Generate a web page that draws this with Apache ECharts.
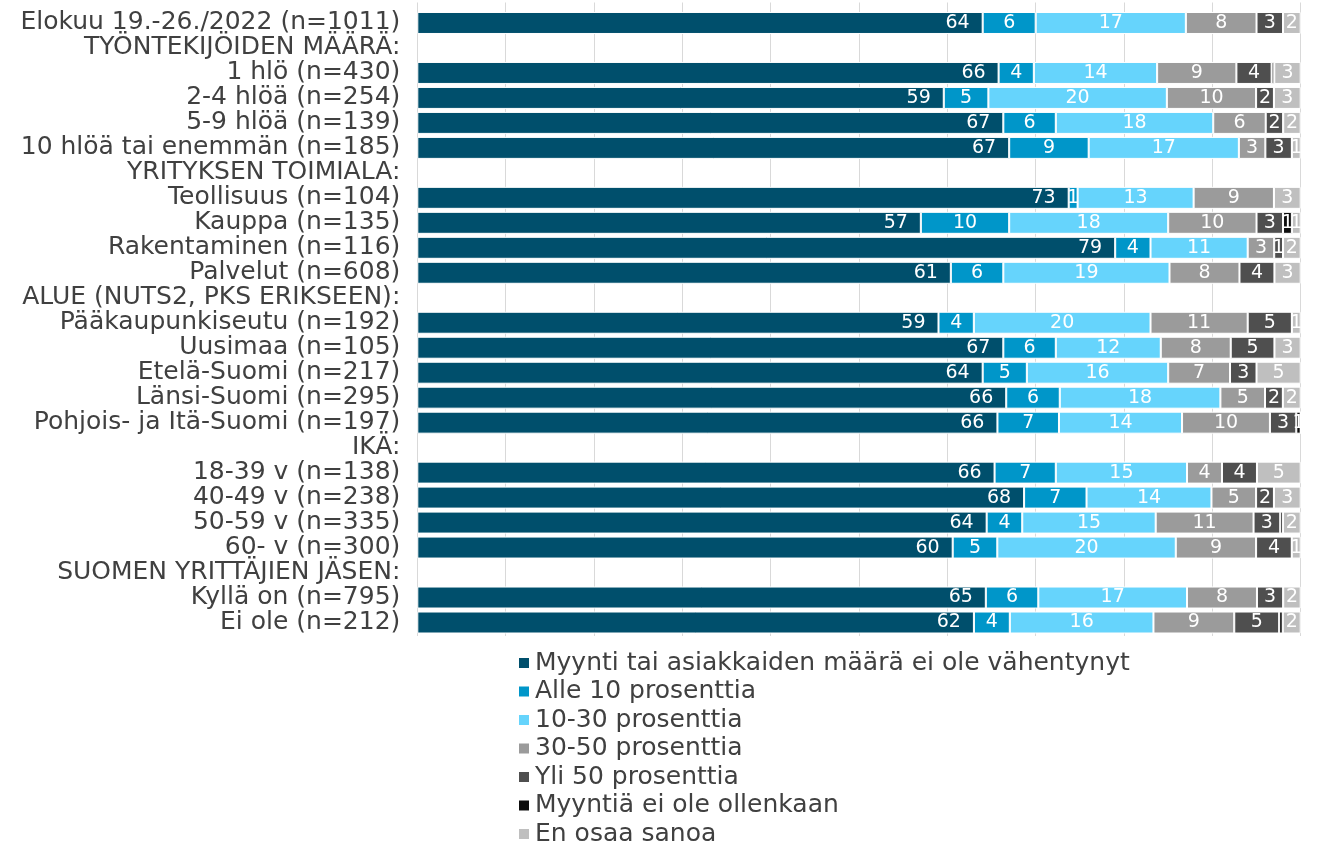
<!DOCTYPE html>
<html>
<head>
<meta charset="utf-8">
<script src="https://cdn.jsdelivr.net/npm/echarts@6/dist/echarts.min.js"></script>
<style>
html,body{margin:0;padding:0;background:#fff;}
#chart{width:1342px;height:845px;}
</style>
</head>
<body>
<div id="chart"></div>
<script>
const categories = [
  'Elokuu 19.-26./2022 (n=1011)',
  'TYÖNTEKIJÖIDEN MÄÄRÄ:',
  '1 hlö (n=430)',
  '2-4 hlöä (n=254)',
  '5-9 hlöä (n=139)',
  '10 hlöä tai enemmän (n=185)',
  'YRITYKSEN TOIMIALA:',
  'Teollisuus (n=104)',
  'Kauppa (n=135)',
  'Rakentaminen (n=116)',
  'Palvelut (n=608)',
  'ALUE (NUTS2, PKS ERIKSEEN):',
  'Pääkaupunkiseutu (n=192)',
  'Uusimaa (n=105)',
  'Etelä-Suomi (n=217)',
  'Länsi-Suomi (n=295)',
  'Pohjois- ja Itä-Suomi (n=197)',
  'IKÄ:',
  '18-39 v (n=138)',
  '40-49 v (n=238)',
  '50-59 v (n=335)',
  '60- v (n=300)',
  'SUOMEN YRITTÄJIEN JÄSEN:',
  'Kyllä on (n=795)',
  'Ei ole (n=212)'
];

const seriesNames = [
  'Myynti tai asiakkaiden määrä ei ole vähentynyt',
  'Alle 10 prosenttia',
  '10-30 prosenttia',
  '30-50 prosenttia',
  'Yli 50 prosenttia',
  'Myyntiä ei ole ollenkaan',
  'En osaa sanoa'
];

const eiVahentynyt = [64,null,66,59,67,67,null,73,57,79,61,null,59,67,64,66,66,null,66,68,64,60,null,65,62];
const alle10       = [6,null,4,5,6,9,null,1,10,4,6,null,4,6,5,6,7,null,7,7,4,5,null,6,4];
const p10_30       = [17,null,14,20,18,17,null,13,18,11,19,null,20,12,16,18,14,null,15,14,15,20,null,17,16];
const p30_50       = [8,null,9,10,6,3,null,9,10,3,8,null,11,8,7,5,10,null,4,5,11,9,null,8,9];
const yli50        = [3,null,4,2,2,3,null,0,3,1,4,null,5,5,3,2,3,null,4,2,3,4,null,3,5];
const eiMyyntia    = [0,null,0.3,0,0,0,null,0,1,0,0,null,0,0,0,0,0.5,null,0,0,0.3,0,null,0,0.4];
const eosSanoa     = [2,null,3,3,2,1,null,3,1,2,3,null,1,3,5,2,0,null,5,3,2,1,null,2,2];

const colors = ['#004f6c','#0096c9','#66d4fc','#9b9b9b','#4f4f4f','#0d0d0d','#bfbfbf'];
const raw = [eiVahentynyt, alle10, p10_30, p30_50, yli50, eiMyyntia, eosSanoa];

const FONT = 'DejaVu Sans';

const rowSums = categories.map((c, i) => {
  let s = 0; let any = false;
  raw.forEach(a => { if (a[i] != null) { s += a[i]; any = true; } });
  return any ? s : null;
});

const series = raw.map((arr, si) => ({
  name: seriesNames[si],
  type: 'bar',
  stack: 'total',
  barCategoryGap: '12%',
  xAxisIndex: 0, yAxisIndex: 0,
  itemStyle: { color: colors[si], borderColor: '#ffffff', borderWidth: 1 },
  label: {
    show: true,
    position: si === 0 ? 'insideRight' : 'inside',
    distance: si === 0 ? 13 : 5,
    color: '#ffffff',
    fontFamily: FONT,
    fontSize: 19,
    formatter: p => {
      const v = arr[p.dataIndex];
      if (v == null || Math.round(v) === 0) return '';
      return String(Math.round(v));
    }
  },
  emphasis: { disabled: true },
  data: arr.map((v, i) => v == null ? null : v / rowSums[i] * 100)
}));

const chart = echarts.init(document.getElementById('chart'), null, { renderer: 'canvas' });
chart.setOption({
  animation: false,
  backgroundColor: '#ffffff',
  color: colors,
  grid: [
    { left: 417.3, right: 41.3, top: 10.5, bottom: 210, containLabel: false },
    { left: 417.3, right: 41.3, top: 2.5, bottom: 209, containLabel: false }
  ],
  xAxis: [
    {
      gridIndex: 0, type: 'value', min: 0, max: 100, interval: 10,
      axisLabel: { show: false }, axisLine: { show: false }, axisTick: { show: false },
      splitLine: { show: false }
    },
    {
      gridIndex: 1, type: 'value', min: 0, max: 100, interval: 10,
      axisLabel: { show: false }, axisLine: { show: false }, axisTick: { show: false },
      splitLine: { show: true, lineStyle: { color: '#d9d9d9', width: 1 } }
    }
  ],
  yAxis: [
    {
      gridIndex: 0, type: 'category', data: categories, inverse: true,
      axisLine: { show: false }, axisTick: { show: false },
      axisLabel: { interval: 0, color: '#404040', fontFamily: FONT, fontSize: 25, margin: 17 }
    },
    {
      gridIndex: 1, type: 'value', min: 0, max: 1, show: false
    }
  ],
  legend: {
    orient: 'vertical',
    left: 517,
    top: 650.5,
    height: 260,
    padding: 0,
    itemWidth: 12,
    itemHeight: 12,
    itemGap: 3.5,
    icon: 'rect',
    textStyle: { color: '#404040', fontFamily: FONT, fontSize: 25, lineHeight: 24 },
    data: seriesNames
  },
  series: series
});
</script>
</body>
</html>
